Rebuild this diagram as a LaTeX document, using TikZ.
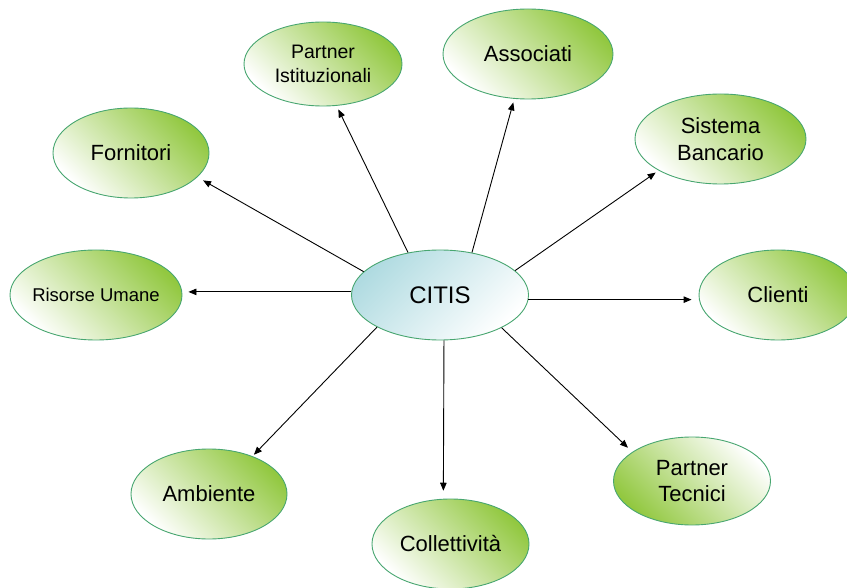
\documentclass[tikz,border=0pt]{standalone}
\usepackage{fontspec}
\setmainfont{Liberation Sans}
\usetikzlibrary{shapes.geometric,arrows.meta}
\definecolor{leafgreen}{RGB}{146,200,64}
\definecolor{rimgreen}{RGB}{72,166,112}
\definecolor{hubteal}{RGB}{176,219,225}
\newcommand\ztxt[1]{\makebox[0pt][c]{#1}}
\begin{document}
\begin{tikzpicture}[x=1pt,y=-1pt,
 ell/.style={ellipse, draw=rimgreen, line width=0.9pt, inner sep=0pt, align=center,
   font=\fontsize{22}{26.4}\selectfont},
 greenell/.style={ell, top color=leafgreen, bottom color=white, shading angle=-45},
 greenrev/.style={ell, top color=white, bottom color=leafgreen, shading angle=-45},
 hubell/.style={ell, top color=hubteal, bottom color=white, shading angle=45,
   font=\fontsize{24}{28}\selectfont},
 conn/.style={draw=black, line width=0.9pt, -{Triangle[length=8pt,width=6.5pt]}}
]
\useasboundingbox (0,0) rectangle (847,588);

\node[hubell, minimum width=177pt, minimum height=90pt] (citis) at (440,295) {CITIS};

\node[greenell, minimum width=158pt, minimum height=84pt,
      font=\fontsize{19.5}{24}\selectfont] (pist) at (323,64) {Partner\\Istituzionali};
\node[greenell, minimum width=170pt, minimum height=90pt] (assoc) at (528,54) {Associati};
\node[greenell, minimum width=171pt, minimum height=90pt] (banca) at (720.5,139) {Sistema\\Bancario};
\node[greenell, minimum width=156pt, minimum height=90pt] (forn) at (131,153) {Fornitori};
\node[greenell, minimum width=172pt, minimum height=90pt,
      font=\fontsize{18.5}{22}\selectfont] (risorse) at (96,295) {\ztxt{Risorse Umane}};
\node[greenell, minimum width=158pt, minimum height=90pt] (clienti) at (778,295) {Clienti};
\node[greenrev, minimum width=157pt, minimum height=88pt] (ptec) at (692,481) {Partner\\Tecnici};
\node[greenell, minimum width=156pt, minimum height=90pt] (amb) at (209,494) {Ambiente};
\node[greenell, minimum width=157pt, minimum height=90pt] (coll) at (450.5,544) {Collettività};

\draw[conn, shorten >=6.5pt] (citis.163) -- (forn.-20);
\draw[conn, shorten >=4pt] (citis.127) -- (pist.-72.3);
\draw[conn, shorten >=3.7pt] (citis.53.5) -- (assoc.-107.5);
\draw[conn, shorten >=3.6pt] (citis.18) -- (banca.207.5);
\draw[conn, shorten >=6pt] (citis.178.7) -- (citis.178.7 -| risorse.east);
\draw[conn, shorten >=7pt] (citis.-3.3) -- (citis.-3.3 -| clienti.west);
\draw[conn, shorten >=2pt] (citis.-153.7) -- (amb.41.2);
\draw[conn, shorten >=8pt] (citis.-85.8) -- (coll.99.1);
\draw[conn, shorten >=6pt] (citis.-28.7) -- (ptec.154.6);
\end{tikzpicture}
\end{document}
